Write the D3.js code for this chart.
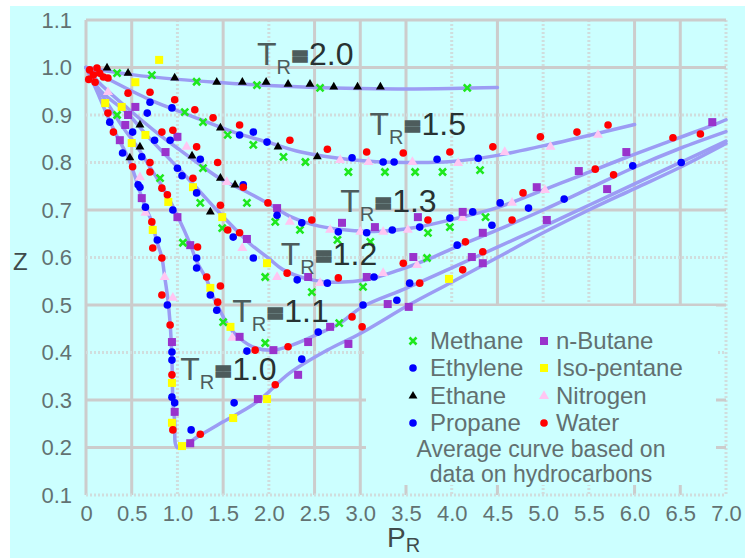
<!DOCTYPE html>
<html>
<head>
<meta charset="utf-8">
<script src="https://cdn.jsdelivr.net/npm/d3@7"></script>
<style>
  body { margin: 0; background: #ffffff; }
  svg { display: block; }
</style>
</head>
<body>
<div id="chart"></div>
<script>
// ---- data (P_R, Z) ----
const xTicks = [0, 0.5, 1, 1.5, 2, 2.5, 3, 3.5, 4, 4.5, 5, 5.5, 6, 6.5, 7];
const yTicks = [0.1, 0.2, 0.3, 0.4, 0.5, 0.6, 0.7, 0.8, 0.9, 1.0, 1.1];

const trLabels = ["2.0", "1.5", "1.3", "1.2", "1.1", "1.0"];

// average curves
const tr20 = [[0,1.0],[0.5,0.985],[1.0,0.975],[1.5,0.968],[2.0,0.962],[2.5,0.958],[3.0,0.956],[3.5,0.955],[4.0,0.956],[4.5,0.958]];
const tr15 = [[0,1.0],[0.2,0.98],[0.7,0.932],[1.1,0.902],[1.6,0.865],[2.0,0.842],[2.35,0.822],[2.9,0.806],[3.5,0.800],[4.0,0.802],[4.5,0.815],[5.0,0.835],[5.5,0.857],[6.0,0.880]];
const tr13 = [[0,1.0],[0.15,0.967],[0.48,0.91],[0.78,0.862],[1.03,0.826],[1.25,0.795],[1.46,0.767],[1.76,0.738],[2.0,0.713],[2.25,0.685],[2.55,0.666],[2.85,0.658],[3.2,0.655],[3.6,0.663],[4.0,0.68],[4.5,0.705],[5.0,0.742],[5.4,0.772],[5.9,0.81],[6.4,0.846],[6.85,0.878],[7.0,0.89]];
const tr12 = [[0,1.0],[0.15,0.953],[0.45,0.904],[0.67,0.856],[0.89,0.812],[1.06,0.778],[1.25,0.738],[1.43,0.70],[1.61,0.664],[1.8,0.628],[2.0,0.598],[2.15,0.575],[2.42,0.555],[2.7,0.548],[3.07,0.553],[3.43,0.574],[3.8,0.601],[4.0,0.618],[4.5,0.658],[5.0,0.70],[5.5,0.745],[6.0,0.79],[6.5,0.83],[7.0,0.865]];
const tr11 = [[0,1.0],[0.12,0.959],[0.26,0.917],[0.4,0.875],[0.56,0.833],[0.7,0.79],[0.84,0.747],[1.0,0.688],[1.14,0.628],[1.21,0.592],[1.32,0.553],[1.39,0.518],[1.47,0.487],[1.55,0.458],[1.68,0.43],[1.85,0.41],[2.05,0.405],[2.26,0.416],[2.54,0.439],[2.78,0.462],[3.02,0.496],[3.5,0.535],[4.0,0.578],[4.5,0.622],[5.0,0.665],[5.5,0.71],[6.0,0.755],[6.5,0.80],[7.0,0.845]];
const tr10 = [[0,1.0],[0.12,0.95],[0.23,0.9],[0.34,0.855],[0.45,0.815],[0.52,0.78],[0.59,0.738],[0.65,0.706],[0.72,0.675],[0.77,0.637],[0.83,0.6],[0.86,0.56],[0.89,0.52],[0.92,0.462],[0.94,0.384],[0.95,0.3],[0.97,0.255],[1.0,0.2],[1.25,0.226],[1.5,0.254],[1.87,0.296],[2.23,0.357],[2.64,0.405],[3.0,0.44],[3.55,0.502],[4.0,0.548],[4.5,0.60],[5.0,0.652],[5.5,0.70],[6.0,0.745],[6.5,0.79],[7.0,0.84]];

// measured points per gas
const methane = [[0.34,0.988],[0.72,0.984],[1.21,0.970],[1.87,0.963],[2.56,0.957],[4.17,0.957],
  [0.34,0.900],[1.08,0.906],[1.28,0.885],[1.55,0.858],[1.83,0.837],[2.16,0.812],[2.40,0.801],[2.87,0.780],[3.27,0.780],[3.60,0.780],[3.90,0.780],[4.31,0.784],
  [1.28,0.788],[0.81,0.767],[1.25,0.715],[1.49,0.662],[1.76,0.715],[2.07,0.675],[2.34,0.658],[2.75,0.637],[3.11,0.633],[3.74,0.652],[3.98,0.664],[4.37,0.685],
  [1.06,0.631],[1.96,0.559],[2.47,0.527],[3.03,0.538],[3.73,0.599],[1.50,0.464],[1.96,0.420],[2.77,0.462]];
const ethylene = [[0.70,0.927],[0.94,0.915],[0.67,0.904],[0.26,0.885],[1.68,0.858],[1.83,0.864],[0.51,0.864],[0.75,0.847],[0.92,0.847],[0.40,0.820],
  [0.61,0.812],[1.25,0.807],[1.00,0.788],[1.05,0.772],[1.72,0.753],[0.57,0.753],[0.59,0.748],[0.65,0.706],[0.78,0.637],[0.89,0.500],
  [1.98,0.843],[2.91,0.810],[3.25,0.801],[3.37,0.801],[3.84,0.807],[4.29,0.809]];
const ethane = [[0.23,0.999],[0.46,0.988],[0.97,0.978],[1.43,0.969],[1.71,0.969],[1.97,0.969],[2.21,0.965],[2.45,0.965],[2.71,0.959],[2.97,0.959],[3.22,0.959],
  [0.59,0.879],[1.47,0.873],[0.48,0.810],[0.59,0.833],[1.16,0.814],[2.10,0.833],[2.53,0.812],[1.47,0.767],[1.63,0.753],[1.36,0.696]];
const propane = [[0.95,0.700],[1.21,0.599],[1.21,0.578],[1.36,0.521],[1.43,0.489],[1.21,0.736],[1.61,0.643],[1.83,0.599],[2.09,0.689],[2.36,0.673],
  [2.76,0.654],[3.07,0.652],[3.35,0.658],[3.65,0.664],[2.31,0.553],[2.64,0.546],[3.15,0.559],[3.54,0.546],[3.03,0.500],[3.40,0.510],
  [0.94,0.401],[0.94,0.384],[0.94,0.306],[0.97,0.294],[1.15,0.237],[1.62,0.294],[2.36,0.386],[1.76,0.403],[2.54,0.443],
  [3.98,0.683],[4.23,0.696],[4.44,0.668],[4.53,0.715],[4.84,0.704],[4.06,0.626],[5.98,0.793],[6.51,0.800],[5.23,0.723]];
const nButane = [[0.54,0.917],[0.46,0.900],[0.43,0.879],[0.37,0.847],[1.00,0.854],[0.87,0.822],[0.61,0.725],[1.00,0.685],[1.14,0.626],[1.76,0.639],
  [2.09,0.704],[2.80,0.673],[3.16,0.664],[3.63,0.685],[2.43,0.559],[3.07,0.559],[3.58,0.601],[3.30,0.502],[3.53,0.496],[2.67,0.454],
  [0.94,0.422],[0.97,0.275],[1.14,0.209],[1.88,0.302],[2.32,0.353],[2.87,0.418],[1.68,0.433],[2.05,0.405],[2.43,0.422],
  [4.12,0.696],[4.34,0.652],[4.93,0.748],[5.04,0.679],[4.22,0.601],[4.34,0.588],[5.39,0.782],[5.91,0.822],[5.70,0.744],[6.85,0.885]];
const isoPentane = [[0.80,1.016],[0.54,0.969],[0.21,0.925],[0.39,0.917],[0.65,0.858],[0.50,0.841],[1.17,0.748],[0.73,0.658],[0.90,0.717],[1.49,0.685],
  [1.36,0.536],[1.58,0.454],[1.98,0.588],[3.97,0.555],[0.94,0.336],[0.94,0.252],[1.05,0.203],[1.61,0.262],[1.98,0.302]];
const nitrogen = [[0.24,0.948],[1.10,0.833],[0.59,0.769],[1.54,0.759],[0.65,0.694],[0.86,0.559],[0.95,0.515],[1.71,0.620],[2.23,0.675],[2.67,0.658],
  [3.00,0.654],[3.25,0.654],[3.52,0.658],[2.09,0.559],[2.56,0.546],[3.25,0.567],[3.62,0.584],[1.60,0.431],[2.78,0.805],[3.09,0.801],
  [3.57,0.801],[4.07,0.799],[4.58,0.822],[5.08,0.833],[5.60,0.858],[4.12,0.683],[4.66,0.715],[5.02,0.742]];
const water = [[0.04,0.995],[0.12,0.999],[0.19,0.980],[0.10,0.969],[0.24,0.978],[0.08,0.984],[0.15,0.988],[0.03,0.975],
  [0.46,0.946],[0.70,0.948],[0.97,0.932],[1.19,0.911],[1.39,0.894],[1.68,0.879],[2.23,0.847],[2.64,0.828],[3.07,0.822],[3.47,0.820],[3.98,0.822],[4.45,0.833],[4.97,0.854],[5.37,0.864],[5.71,0.879],
  [0.24,0.904],[0.30,0.864],[0.83,0.864],[0.95,0.868],[1.21,0.833],[1.44,0.800],[0.51,0.791],[0.70,0.800],[0.70,0.780],[1.17,0.767],[1.72,0.748],
  [0.72,0.675],[0.73,0.620],[0.83,0.599],[0.83,0.521],[0.92,0.458],[0.94,0.353],[0.95,0.237],
  [0.83,0.746],[0.89,0.732],[1.22,0.622],[1.32,0.559],[1.47,0.540],[1.44,0.506],
  [1.47,0.710],[1.55,0.658],[1.68,0.652],[1.99,0.715],[2.47,0.679],[3.74,0.679],
  [2.20,0.567],[2.76,0.557],[3.47,0.588],[3.65,0.546],[2.91,0.475],[3.02,0.454],
  [1.25,0.228],[2.07,0.332],[1.85,0.405],[2.21,0.412],
  [4.78,0.736],[4.66,0.679],[4.15,0.633],[4.34,0.612],[4.12,0.574],[5.57,0.786],[5.77,0.774],[6.42,0.852],[6.72,0.860]];

const legendNames = ["Methane", "Ethylene", "Ethane", "Propane", "n-Butane", "Iso-pentane", "Nitrogen", "Water"];

// ---- layout ----
const W = 745, H = 558;
const FONT = "'Liberation Sans', Arial, sans-serif";
const BG = "#ccffff";
const curveColor = "#9c9cf4";

const x = d3.scaleLinear().domain([0, 7]).range([86, 726]);
const y = d3.scaleLinear().domain([0.1, 1.1]).range([495, 20]);

const svg = d3.select("#chart").append("svg")
    .attr("width", W)
    .attr("height", H);

svg.append("rect")
    .attr("x", 10).attr("y", 6)
    .attr("width", W - 10).attr("height", H - 6)
    .attr("fill", BG);

// grid (some lines come out dotted in the original)
const dottedX = [1, 2, 4, 5, 5.5, 7];
const dottedY = [0.1, 0.4, 0.6, 0.8, 0.9];
const grid = svg.append("g");

xTicks.forEach(t => {
  const dotted = dottedX.includes(t);
  grid.append("line")
      .attr("x1", x(t)).attr("x2", x(t))
      .attr("y1", y(1.1)).attr("y2", y(0.1))
      .attr("stroke", dotted ? "#d0dddd" : "#cccccc")
      .attr("stroke-width", 3)
      .attr("stroke-dasharray", dotted ? "2,2" : null);
});
yTicks.forEach(t => {
  const dotted = dottedY.includes(t);
  grid.append("line")
      .attr("x1", x(0)).attr("x2", x(7))
      .attr("y1", y(t)).attr("y2", y(t))
      .attr("stroke", dotted ? "#d0dddd" : "#cccccc")
      .attr("stroke-width", 3)
      .attr("stroke-dasharray", dotted ? "2,2" : null);
});

// legend backdrop hides the grid behind it
svg.append("rect")
    .attr("x", 366).attr("y", 306)
    .attr("width", 350).attr("height", 179)
    .attr("fill", BG);

// axes
const xAxis = svg.append("g")
    .attr("transform", `translate(0,${y(0.1)})`)
    .call(d3.axisBottom(x).tickValues(xTicks).tickSize(0).tickPadding(10)
      .tickFormat(d => d === 0 ? "0" : d3.format(".1f")(d)));
const yAxis = svg.append("g")
    .attr("transform", `translate(${x(0)},0)`)
    .call(d3.axisLeft(y).tickValues(yTicks).tickSize(0).tickPadding(14)
      .tickFormat(d3.format(".1f")));
[xAxis, yAxis].forEach(a => {
  a.select(".domain").remove();
  a.selectAll("text")
      .attr("font-family", FONT)
      .attr("font-size", 22)
      .attr("fill", "#627272");
});

svg.append("text")
    .attr("x", 13).attr("y", 270)
    .attr("font-family", FONT).attr("font-size", 24)
    .attr("fill", "#3f4b4b")
    .text("Z");

const pr = svg.append("text")
    .attr("x", 387).attr("y", 547)
    .attr("font-family", FONT)
    .attr("fill", "#3f4b4b");
pr.append("tspan").attr("font-size", 28).text("P");
pr.append("tspan").attr("font-size", 20).attr("dy", 5).text("R");

// curves
const curves = [tr20, tr15, tr13, tr12, tr11, tr10];
const line = d3.line()
    .x(d => x(d[0]))
    .y(d => y(d[1]))
    .curve(d3.curveCatmullRom.alpha(0.5));

svg.append("g")
  .selectAll("path")
  .data(curves)
  .join("path")
    .attr("d", line)
    .attr("fill", "none")
    .attr("stroke", curveColor)
    .attr("stroke-width", 3.5)
    .attr("stroke-linejoin", "round")
    .attr("stroke-linecap", "round");

// marker shapes
const tri = d3.symbol().type(d3.symbolTriangle);
const markers = {
  "Methane":     g => g.append("path").attr("d", "M-3.5,-3.5L3.5,3.5M-3.5,3.5L3.5,-3.5")
                      .attr("stroke", "#1ee81e").attr("stroke-width", 2.6).attr("fill", "none"),
  "Ethylene":    g => g.append("circle").attr("r", 3.8).attr("fill", "#0000ff"),
  "Ethane":      g => g.append("path").attr("d", tri.size(34)()).attr("fill", "#000000"),
  "Propane":     g => g.append("circle").attr("r", 3.8).attr("fill", "#0000ff"),
  "n-Butane":    g => g.append("rect").attr("x", -4).attr("y", -4).attr("width", 8).attr("height", 8).attr("fill", "#9933cc"),
  "Iso-pentane": g => g.append("rect").attr("x", -4).attr("y", -4).attr("width", 8).attr("height", 8).attr("fill", "#ffff00"),
  "Nitrogen":    g => g.append("path").attr("d", tri.size(44)()).attr("fill", "#ffc6f2"),
  "Water":       g => g.append("circle").attr("r", 3.8).attr("fill", "#ff0000")
};

const series = [
  ["Nitrogen", nitrogen], ["Iso-pentane", isoPentane], ["n-Butane", nButane],
  ["Methane", methane], ["Ethane", ethane], ["Ethylene", ethylene],
  ["Propane", propane], ["Water", water]
];

series.forEach(([name, pts]) => {
  svg.append("g")
    .selectAll("g")
    .data(pts)
    .join("g")
      .attr("transform", d => `translate(${x(d[0])},${y(d[1])})`)
      .each(function() { markers[name](d3.select(this)); });
});

// T_R labels
const trLabelAt = [[1.87, 1.006], [3.10, 0.857], [2.78, 0.696], [2.13, 0.584], [1.60, 0.464], [1.03, 0.342]];
trLabels.forEach((lab, i) => {
  const [p, z] = trLabelAt[i];
  const t = svg.append("text")
      .attr("x", x(p)).attr("y", y(z))
      .attr("font-family", FONT)
      .attr("fill", "#4d5c5c");
  t.append("tspan").attr("font-size", 32).text("T");
  t.append("tspan").attr("font-size", 20).attr("dy", 9).text("R");
  t.append("tspan").attr("font-size", 24).attr("font-weight", "bold")
      .attr("dy", -9).attr("dx", 2)
      .attr("stroke", "#4d5c5c").attr("stroke-width", 3.5)
      .text("=");
  t.append("tspan").attr("font-size", 32).attr("dx", 2)
      .attr("fill", "#283232")
      .text(lab);
});

// legend
const legend = svg.append("g");
legendNames.forEach((name, i) => {
  const col = Math.floor(i / 4), row = i % 4;
  const mx = col === 0 ? 413 : 544;
  const my = [341, 368, 396, 423][row];
  const g = legend.append("g").attr("transform", `translate(${mx},${my})`);
  markers[name](g);
  legend.append("text")
      .attr("x", col === 0 ? 430 : 556).attr("y", my + 8)
      .attr("font-family", FONT).attr("font-size", 24)
      .attr("fill", "#627070")
      .text(name);
});
legend.append("text")
    .attr("x", 541).attr("y", 457)
    .attr("text-anchor", "middle")
    .attr("font-family", FONT).attr("font-size", 23)
    .attr("fill", "#627070")
    .text("Average curve based on");
legend.append("text")
    .attr("x", 541).attr("y", 482)
    .attr("text-anchor", "middle")
    .attr("font-family", FONT).attr("font-size", 23)
    .attr("fill", "#627070")
    .text("data on hydrocarbons");
</script>
</body>
</html>
